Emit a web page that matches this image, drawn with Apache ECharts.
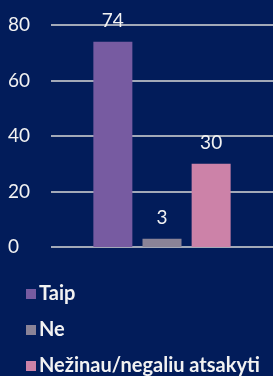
<!DOCTYPE html>
<html>
<head>
<meta charset="utf-8">
<script src="https://cdn.jsdelivr.net/npm/echarts@6/dist/echarts.min.js"></script>
<style>
  html, body { margin: 0; padding: 0; background: #021c5a; }
  #chart { width: 273px; height: 376px; }
</style>
</head>
<body>
<div id="chart"></div>
<script>
// answers and their shares (%)
let seriesNames = ['Taip', 'Ne', 'Nežinau/negaliu atsakyti'];
let seriesValues = [74, 3, 30];
let seriesColors = ['#775ba1', '#8a8397', '#cc82a8'];
let yTicks = [0, 20, 40, 60, 80];

let chart = echarts.init(document.getElementById('chart'));

let textColor = '#f2f2f2';
let fontFamily = 'Lato, sans-serif';

let series = seriesNames.map((name, i) => ({
    name: name,
    type: 'bar',
    barWidth: 39,
    barGap: '26%',
    itemStyle: { color: seriesColors[i] },
    label: {
        show: true,
        position: 'top',
        distance: 11,
        color: textColor,
        fontSize: 19,
        fontFamily: fontFamily
    },
    data: [seriesValues[i]]
}));

let option = {
    backgroundColor: '#021c5a',
    animation: false,
    grid: {
        left: 51,
        right: 0,
        top: 25,
        height: 222
    },
    legend: {
        orient: 'vertical',
        left: 26,
        top: 284,
        height: 92,
        width: 247,
        padding: 0,
        itemWidth: 10,
        itemHeight: 10,
        itemGap: 16,
        icon: 'rect',
        textStyle: {
            color: textColor,
            fontSize: 20,
            fontWeight: 'bold',
            lineHeight: 18,
            fontFamily: fontFamily,
            padding: [0, 0, 0, -2]
        },
        data: seriesNames
    },
    xAxis: {
        type: 'category',
        data: [''],
        axisLine: { show: false },
        axisTick: { show: false },
        axisLabel: { show: false }
    },
    yAxis: {
        type: 'value',
        min: yTicks[0],
        max: yTicks[yTicks.length - 1],
        interval: 20,
        axisLine: { show: false },
        axisTick: { show: false },
        axisLabel: {
            color: textColor,
            fontSize: 19,
            fontFamily: fontFamily,
            align: 'left',
            margin: 43
        },
        splitLine: {
            lineStyle: { color: '#d9d9d9', width: 1.5 }
        }
    },
    series: series
};

option && chart.setOption(option);
</script>
</body>
</html>
